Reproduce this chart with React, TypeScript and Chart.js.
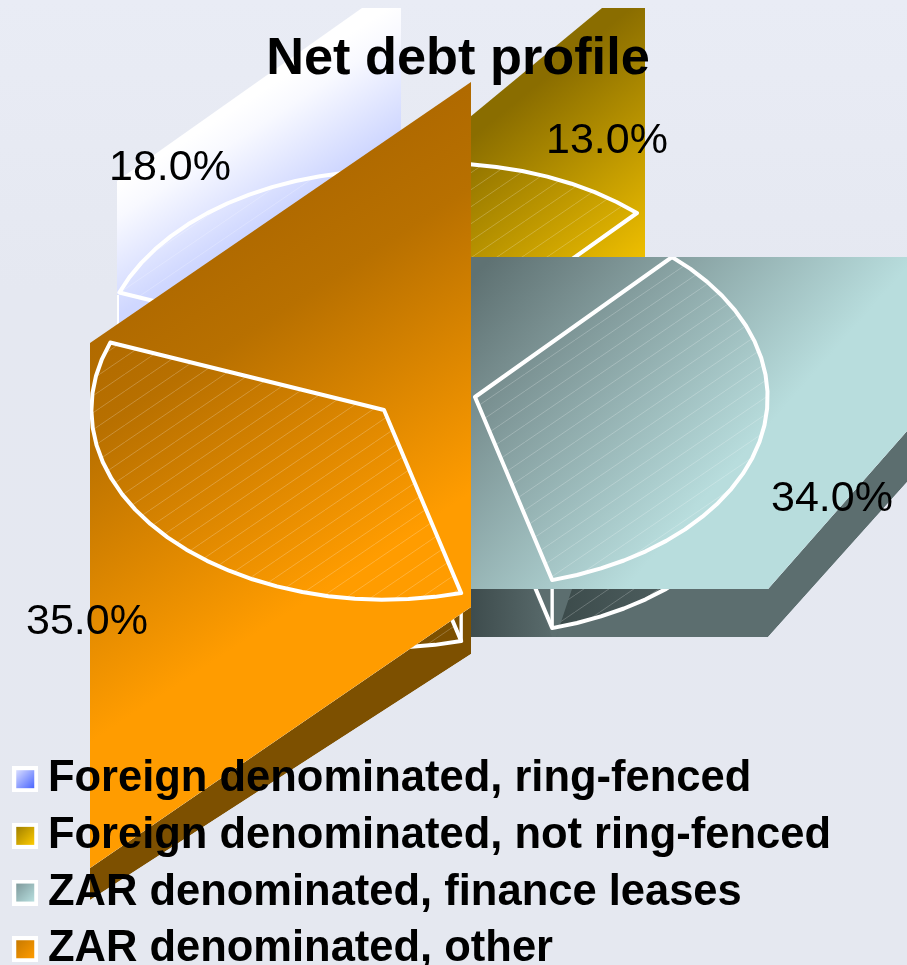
import React, { useEffect, useRef } from "react";
import { Chart, registerables } from "chart.js";

Chart.register(...registerables);

const TITLE = "Net debt profile";
const categories = [
  "Foreign denominated, ring-fenced",
  "Foreign denominated, not ring-fenced",
  "ZAR denominated, finance leases",
  "ZAR denominated, other",
];
const shares = [18.0, 13.0, 34.0, 35.0];

const FONT = "'Liberation Sans', Arial, sans-serif";
const W = 907;
const H = 965;
const DEPTH = 48;
// The tilted pie's projection: unit circle -> screen pixels
const AXIS_X = [197, -140];
const AXIS_Y = [216.4, 128];

type Pt = [number, number];
const poly = (ctx: CanvasRenderingContext2D, pts: Pt[]) => {
  ctx.beginPath();
  pts.forEach((p, i) => (i ? ctx.lineTo(p[0], p[1]) : ctx.moveTo(p[0], p[1])));
  ctx.closePath();
};

const sliceCentres: Pt[] = [[393, 360], [440, 353], [475, 397], [384, 410]];
const panelFronts: Pt[][] = [
  [[117, 181], [362, 8], [401, 8], [401, 600], [117, 600]],
  [[400, 175], [470, 117], [602, 8], [645, 8], [645, 258], [400, 258]],
  [[471, 257], [907, 257], [907, 431], [768, 589], [471, 589]],
  [[90, 343], [471, 82], [471, 607], [90, 868]],
];
const panelSides: (Pt[] | null)[] = [
  null,
  null,
  [[471, 589], [768, 589], [907, 431], [907, 482], [768, 637], [471, 637]],
  [[90, 868], [471, 607], [471, 654], [90, 900]],
];
const panelGradients: [number, number, number, number, string, string, string][] = [
  [240, 105, 300, 197, "#ffffff", "#f8f9ff", "#cfd7ff"],
  [530, 90, 660, 250, "#8a6d00", "#a38200", "#f0c000"],
  [480, 270, 720, 481, "#5f7273", "#768c8d", "#b8dddd"],
  [280, 210, 467, 496, "#b06a00", "#b87000", "#ff9c00"],
];
const labelSpots: Pt[] = [[170, 168], [607, 141], [832, 499], [87, 622]];
const swatchColours: [string, string][] = [
  ["#d8ddff", "#4a66ff"],
  ["#a08000", "#ffcc00"],
  ["#7f9a9c", "#b8e0e0"],
  ["#c87a00", "#ff9c00"],
];

const makeHatch = (ctx: CanvasRenderingContext2D) => {
  const tile = document.createElement("canvas");
  tile.width = 25;
  tile.height = 17;
  const t = tile.getContext("2d")!;
  t.strokeStyle = "rgba(255,255,255,0.22)";
  t.lineWidth = 1;
  t.beginPath();
  t.moveTo(-1, 17.7);
  t.lineTo(26, -0.7);
  t.stroke();
  return ctx.createPattern(tile, "repeat")!;
};

const makeSwatch = (c: [string, string]) => {
  const s = document.createElement("canvas");
  s.width = 26;
  s.height = 26;
  const x = s.getContext("2d")!;
  x.fillStyle = "#ffffff";
  x.fillRect(0, 0, 26, 26);
  const g = x.createLinearGradient(4, 4, 22, 22);
  g.addColorStop(0, c[0]);
  g.addColorStop(1, c[1]);
  x.fillStyle = g;
  x.fillRect(4, 4, 18, 18);
  return s;
};

export default function App() {
  const ref = useRef<HTMLCanvasElement>(null);

  useEffect(() => {
    const canvas = ref.current!;
    const c2d = canvas.getContext("2d")!;
    const hatches = shares.map(() => makeHatch(c2d));
    const swatches = swatchColours.map(makeSwatch);

    const onRim = (a: number, o: Pt): Pt => [
      o[0] + AXIS_X[0] * Math.cos(a) + AXIS_Y[0] * Math.sin(a),
      o[1] + AXIS_X[1] * Math.cos(a) + AXIS_Y[1] * Math.sin(a),
    ];

    const slicePath = (ctx: CanvasRenderingContext2D, arc: any, o: Pt) => {
      const n = Math.max(4, Math.round((arc.endAngle - arc.startAngle) / 0.09));
      ctx.beginPath();
      ctx.moveTo(o[0], o[1]);
      for (let k = 0; k <= n; k++) {
        const p = onRim(arc.startAngle + ((arc.endAngle - arc.startAngle) * k) / n, o);
        ctx.lineTo(p[0], p[1]);
      }
      ctx.closePath();
    };

    const drawArc = (ctx: CanvasRenderingContext2D, arc: any, i: number, o: Pt) => {
      const r = arc.outerRadius;
      const a = AXIS_X[0] / r, b = AXIS_X[1] / r, c = AXIS_Y[0] / r, d = AXIS_Y[1] / r;
      const e = o[0] - a * arc.x - c * arc.y;
      const f = o[1] - b * arc.x - d * arc.y;
      hatches[i].setTransform(new DOMMatrix([a, b, c, d, e, f]).inverse());
      ctx.save();
      ctx.transform(a, b, c, d, e, f);
      arc.draw(ctx);
      ctx.restore();
    };

    const strokeSlice = (ctx: CanvasRenderingContext2D, arc: any, o: Pt) => {
      slicePath(ctx, arc, o);
      ctx.strokeStyle = "#ffffff";
      ctx.lineWidth = 4;
      ctx.lineJoin = "round";
      ctx.stroke();
    };

    const tiltedPie = {
      id: "tiltedPie",
      beforeDraw(chart: any) {
        const ctx: CanvasRenderingContext2D = chart.ctx;
        const bg = ctx.createLinearGradient(0, 0, 0, H);
        bg.addColorStop(0, "#e9ecf5");
        bg.addColorStop(0.3, "#e5e8f1");
        bg.addColorStop(1, "#e5e8f0");
        ctx.fillStyle = bg;
        ctx.fillRect(0, 0, W, H);

        const arcs = chart.getDatasetMeta(0).data;
        arcs.forEach((arc: any, i: number) => {
          const o = sliceCentres[i];
          const side = panelSides[i];
          if (side) {
            ctx.save();
            poly(ctx, side);
            ctx.clip();
            const low: Pt = [o[0], o[1] + DEPTH];
            if (i === 2) {
              const g = ctx.createLinearGradient(471, 0, 560, 0);
              g.addColorStop(0, "#3e4c4d");
              g.addColorStop(1, "#5c6e6f");
              ctx.fillStyle = g;
            } else {
              ctx.fillStyle = "#7d5000";
            }
            poly(ctx, side);
            ctx.fill();
            slicePath(ctx, arc, low);
            if (i === 2) {
              const g2 = ctx.createLinearGradient(560, 0, 760, 0);
              g2.addColorStop(0, "#3c4b4b");
              g2.addColorStop(1, "#5c6e6f");
              ctx.fillStyle = g2;
              ctx.fill();
            }
            drawArc(ctx, arc, i, low);
            if (i === 2) {
              poly(ctx, [[533, 589], [572, 589], [556, 637], [552, 637]]);
              ctx.fillStyle = "#5c6e6f";
              ctx.fill();
            }
            strokeSlice(ctx, arc, low);
            const v = onRim(i === 2 ? arc.endAngle : arc.startAngle, low);
            ctx.beginPath();
            ctx.moveTo(v[0], v[1]);
            ctx.lineTo(v[0], v[1] - DEPTH);
            ctx.strokeStyle = "#ffffff";
            ctx.lineWidth = 3.4;
            ctx.stroke();
            ctx.restore();
          }
          const gr = panelGradients[i];
          const g = ctx.createLinearGradient(gr[0], gr[1], gr[2], gr[3]);
          g.addColorStop(0, gr[4]);
          g.addColorStop(0.25, gr[5]);
          g.addColorStop(1, gr[6]);
          ctx.fillStyle = g;
          poly(ctx, panelFronts[i]);
          ctx.fill();
          ctx.save();
          poly(ctx, panelFronts[i]);
          ctx.clip();
          drawArc(ctx, arc, i, o);
          strokeSlice(ctx, arc, o);
          if (i === 0) {
            ctx.beginPath();
            ctx.moveTo(118, 295);
            ctx.lineTo(118, 330);
            ctx.strokeStyle = "#ffffff";
            ctx.lineWidth = 2;
            ctx.stroke();
          }
          ctx.restore();
        });
      },
      beforeDatasetsDraw() {
        return false;
      },
      afterDraw(chart: any) {
        const ctx: CanvasRenderingContext2D = chart.ctx;
        ctx.save();
        ctx.fillStyle = "#000000";
        ctx.font = `43px ${FONT}`;
        ctx.textAlign = "center";
        ctx.textBaseline = "middle";
        chart.data.datasets[0].data.forEach((v: number, i: number) => {
          ctx.fillText(`${v.toFixed(1)}%`, labelSpots[i][0], labelSpots[i][1]);
        });
        ctx.restore();
      },
    };

    const chart = new Chart(canvas, {
      type: "pie",
      data: {
        labels: categories,
        datasets: [
          {
            data: shares,
            backgroundColor: hatches as any,
            borderColor: "#ffffff",
            borderWidth: 0,
          },
        ],
      },
      options: {
        responsive: false,
        animation: false,
        events: [],
        rotation: -21.6,
        layout: { padding: { left: 11, right: 2, top: 0, bottom: -16 } },
        plugins: {
          tooltip: { enabled: false },
          title: {
            display: true,
            text: TITLE,
            color: "#000000",
            font: { family: FONT, size: 52.3, weight: "bold", lineHeight: 1.2 },
            padding: { top: 28, bottom: 0 },
          },
          legend: {
            display: true,
            position: "bottom",
            align: "start",
            labels: {
              boxWidth: 2,
              usePointStyle: true,
              padding: 13.2,
              color: "#000000",
              font: { family: FONT, size: 43.5, weight: "bold", lineHeight: 1.2 },
              generateLabels: (c: any) =>
                c.data.labels.map((text: string, i: number) => ({
                  text,
                  index: i,
                  hidden: false,
                  pointStyle: swatches[i],
                  fillStyle: swatchColours[i][1],
                  strokeStyle: "#ffffff",
                  fontColor: "#000000",
                  lineWidth: 0,
                })),
            },
          },
        },
      } as any,
      plugins: [tiltedPie as any],
    });
    return () => chart.destroy();
  }, []);

  return (
    <div style={{ position: "absolute", left: 0, top: 0, width: W, height: H, overflow: "hidden" }}>
      <canvas ref={ref} width={W} height={H} style={{ display: "block" }} />
    </div>
  );
}
